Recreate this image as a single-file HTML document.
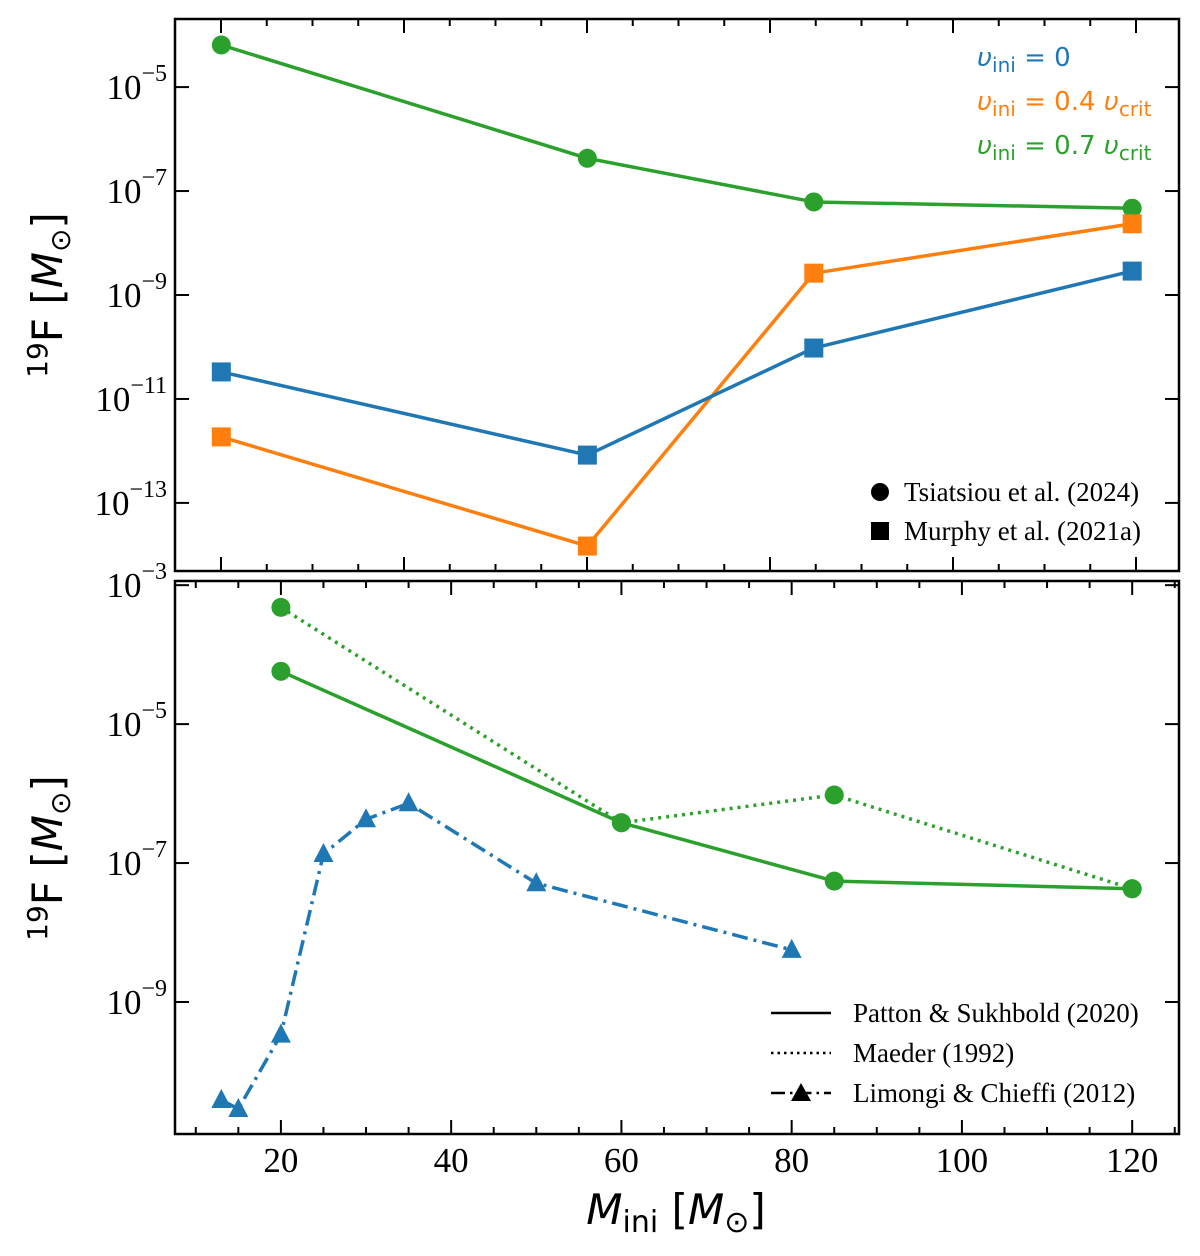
<!DOCTYPE html>
<html><head><meta charset="utf-8"><style>
body{margin:0;background:#fff}
svg{display:block}
.tl{font-family:"Liberation Serif",serif;font-size:35px;fill:#000}
.sup{font-size:24px}
.lg{font-family:"Liberation Serif",serif;font-size:27px;fill:#000}
.vl{font-family:"DejaVu Sans",sans-serif;font-size:26px}
.ax{font-family:"DejaVu Sans",sans-serif;font-size:42px;fill:#000}
</style></head><body>
<svg id="chart" width="1200" height="1256" viewBox="0 0 1200 1256" xmlns="http://www.w3.org/2000/svg">
<g id="top"></g>
<g id="bot"></g>
<text class="ax" transform="translate(62,295) rotate(-90)" text-anchor="middle"><tspan font-size="28" dy="-15">19</tspan><tspan dy="15">F [</tspan><tspan font-style="italic">M</tspan><tspan font-size="28" dy="8">⊙</tspan><tspan dy="-8">]</tspan></text>
<text class="ax" transform="translate(62,858) rotate(-90)" text-anchor="middle"><tspan font-size="28" dy="-15">19</tspan><tspan dy="15">F [</tspan><tspan font-style="italic">M</tspan><tspan font-size="28" dy="8">⊙</tspan><tspan dy="-8">]</tspan></text>
<text class="ax" x="676" y="1224" text-anchor="middle" font-size="44"><tspan font-style="italic">M</tspan><tspan font-size="30" dy="8">ini</tspan><tspan dy="-8"> [</tspan><tspan font-style="italic">M</tspan><tspan font-size="30" dy="8">⊙</tspan><tspan dy="-8">]</tspan></text>
<g>
<text class="vl" x="977" y="66" fill="#1f77b4"><tspan font-style="italic">υ</tspan><tspan font-size="20" dy="6">ini</tspan><tspan dy="-6"> = 0</tspan></text>
<text class="vl" x="977" y="110" fill="#ff7f0e"><tspan font-style="italic">υ</tspan><tspan font-size="20" dy="6">ini</tspan><tspan dy="-6"> = 0.4 </tspan><tspan font-style="italic">υ</tspan><tspan font-size="20" dy="6">crit</tspan></text>
<text class="vl" x="977" y="154" fill="#2ca02c"><tspan font-style="italic">υ</tspan><tspan font-size="20" dy="6">ini</tspan><tspan dy="-6"> = 0.7 </tspan><tspan font-style="italic">υ</tspan><tspan font-size="20" dy="6">crit</tspan></text>
</g>
<g>
<circle cx="880" cy="492" r="9" fill="#000"/>
<text class="lg" x="904" y="501">Tsiatsiou et al. (2024)</text>
<rect x="871" y="522" width="18" height="18" fill="#000"/>
<text class="lg" x="904" y="540">Murphy et al. (2021a)</text>
</g>
<g>
<line x1="771" y1="1013" x2="831" y2="1013" stroke="#000" stroke-width="2.5"/>
<text class="lg" x="853" y="1022">Patton &amp; Sukhbold (2020)</text>
<line x1="771" y1="1053" x2="831" y2="1053" stroke="#000" stroke-width="2.5" stroke-dasharray="2.5,4"/>
<text class="lg" x="853" y="1062">Maeder (1992)</text>
<line x1="771" y1="1093" x2="831" y2="1093" stroke="#000" stroke-width="2.5" stroke-dasharray="14,5,2.5,5"/>
<polygon points="801,1083 811,1101 791,1101" fill="#000"/>
<text class="lg" x="853" y="1102">Limongi &amp; Chieffi (2012)</text>
</g>
</svg>
<script>
// top panel data (log10 of 19F mass)
const topMass = [13, 56, 82.6, 120];
const topGreen = [-4.19, -6.37, -7.21, -7.33];
const topOrange = [-11.73, -13.83, -8.58, -7.63];
const topBlue = [-10.48, -12.08, -10.02, -8.54];
// bottom panel data
const pattonMass = [20, 60, 85, 120];
const pattonVals = [-4.24, -6.42, -7.26, -7.37];
const maederMass = [20, 60, 85, 120];
const maederVals = [-3.32, -6.42, -6.02, -7.37];
const limMass = [13, 15, 20, 25, 30, 35, 50, 80];
const limVals = [-10.41, -10.54, -9.47, -6.87, -6.37, -6.14, -7.29, -8.25];
const yTopTicks = [-5, -7, -9, -11, -13];
const yBotTicks = [-3, -5, -7, -9];
const xTicks = [20, 40, 60, 80, 100, 120];

const NS = "http://www.w3.org/2000/svg";
const L = 175, R = 1179;
const xs = m => L + (m - 7.56) / (125.5 - 7.56) * (R - L);
const ysTop = v => 19 + (-3.69 - v) / (14.31 - 3.69) * (571 - 19);
const ysBot = v => 581 + (-2.94 - v) / (10.90 - 2.94) * (1134 - 581);
function mk(tag, attrs, parent) { const e = document.createElementNS(NS, tag); for (const k in attrs) e.setAttribute(k, attrs[k]); parent.appendChild(e); return e; }
const C = { blue: "#1f77b4", orange: "#ff7f0e", green: "#2ca02c" };

function frame(g, y0, y1, ys, labTicks, name, xLabels, topX) {
  const f = mk("rect", { x: L, y: y0, width: R - L, height: y1 - y0, fill: "none", stroke: "#000", "stroke-width": 2.5 }, g);
  
  
  topX.forEach(t => {
    const x = t.x, len = t.major ? 14 : 7;
    mk("line", { x1: x, x2: x, y1: y1, y2: y1 - len, stroke: "#000", "stroke-width": 2 }, g);
    mk("line", { x1: x, x2: x, y1: y0, y2: y0 + len, stroke: "#000", "stroke-width": 2 }, g);
    if (xLabels && t.major) {
      const tx = mk("text", { x: x, y: y1 + 38, "text-anchor": "middle", class: "tl" }, g);
      tx.textContent = t.label;
      
      
    }
  });
  labTicks.forEach(d => {
    const y = ys(d);
    mk("line", { x1: L, x2: L + 14, y1: y, y2: y, stroke: "#000", "stroke-width": 2 }, g);
    mk("line", { x1: R, x2: R - 14, y1: y, y2: y, stroke: "#000", "stroke-width": 2 }, g);
    const tx = mk("text", { x: L - 8, y: y + 12, "text-anchor": "end", class: "tl" }, g);
    
    
    tx.innerHTML = '10<tspan class="sup" dy="-18">\u2212' + Math.abs(d) + '</tspan>';
  });
}
function series(g, xsArr, vals, ys, color, marker, dash, name) {
  const pts = xsArr.map((m, i) => [xs(m), ys(vals[i])]);
  const p = mk("polyline", { points: pts.map(p => p.join(",")).join(" "), fill: "none", stroke: color, "stroke-width": 3.5, "stroke-dasharray": dash || "none", "stroke-linejoin": "round" }, g);
  
  
  if (!marker) return;
  pts.forEach(([x, y]) => {
    let e;
    if (marker === "circle") e = mk("circle", { cx: x, cy: y, r: 9.5, fill: color }, g);
    else if (marker === "square") e = mk("rect", { x: x - 9.5, y: y - 9.5, width: 19, height: 19, fill: color }, g);
    else e = mk("polygon", { points: `${x},${y - 11} ${x + 10},${y + 8} ${x - 10},${y + 8}`, fill: color }, g);
    
    
  });
}
const gt = document.getElementById("top"), gb = document.getElementById("bot");
const topTickArr = [];
for (let k = 0; k <= 20; k++) { const x = 221 + k * 183 / 4; if (x < R) topTickArr.push({ x: x, major: k % 4 === 0 }); }
frame(gt, 19, 571, ysTop, yTopTicks, "top", false, topTickArr);
const botTickArr = [];
for (let m = 10; m <= 125; m += 5) botTickArr.push({ x: xs(m), major: m % 20 === 0, label: m });
frame(gb, 581, 1134, ysBot, yBotTicks, "bottom", true, botTickArr);
series(gt, topMass, topGreen, ysTop, C.green, "circle", null, "top-green");
series(gt, topMass, topOrange, ysTop, C.orange, "square", null, "top-orange");
series(gt, topMass, topBlue, ysTop, C.blue, "square", null, "top-blue");
series(gb, maederMass, maederVals, ysBot, C.green, "circle", "3,5", "maeder");
series(gb, pattonMass, pattonVals, ysBot, C.green, "circle", null, "patton");
series(gb, limMass, limVals, ysBot, C.blue, "triangle", "16,6,3,6", "limongi");
</script>
</body></html>
